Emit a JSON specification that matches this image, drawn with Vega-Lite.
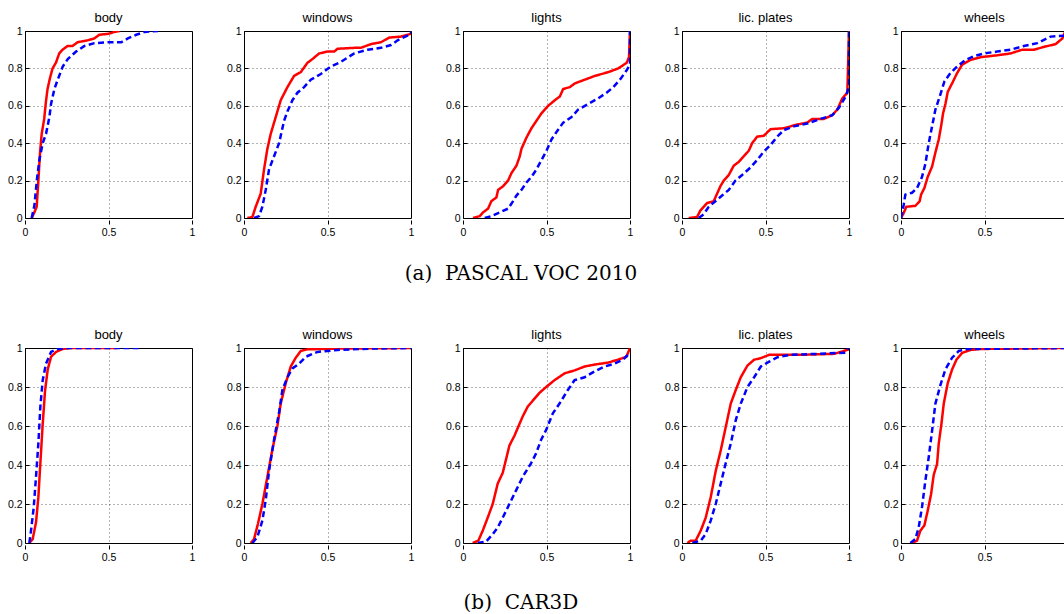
{
"$schema": "https://vega.github.io/schema/vega-lite/v6.json",
"padding": {"left": 6, "top": 12, "right": 0, "bottom": 0},
"background": "#ffffff",
"config": {
  "view": {"stroke": "#000000", "strokeWidth": 1},
  "axis": {"labelFont": "Liberation Sans", "labelFontSize": 10.5, "labelColor": "#000000", "domain": false, "ticks": true, "tickSize": -4, "tickColor": "#000000", "labelPadding": 7, "gridColor": "#000000", "gridOpacity": 0.6, "gridDash": [1, 3], "gridWidth": 1, "labelFlush": false, "title": null},
  "title": {"font": "DejaVu Serif", "fontSize": 20, "fontWeight": "normal", "color": "#000000"},
  "header": {"labelFont": "Liberation Sans", "labelFontSize": 13, "labelColor": "#000000", "labelPadding": 0, "title": null}
},
"datasets": {"pts": [
{"d":"a","p":"body","m":"A","i":0,"x":0.04,"y":0},{"d":"a","p":"body","m":"A","i":1,"x":0.056,"y":0.03},{"d":"a","p":"body","m":"A","i":2,"x":0.07,"y":0.06},{"d":"a","p":"body","m":"A","i":3,"x":0.08,"y":0.2},{"d":"a","p":"body","m":"A","i":4,"x":0.09,"y":0.35},{"d":"a","p":"body","m":"A","i":5,"x":0.1,"y":0.45},{"d":"a","p":"body","m":"A","i":6,"x":0.115,"y":0.53},{"d":"a","p":"body","m":"A","i":7,"x":0.125,"y":0.62},{"d":"a","p":"body","m":"A","i":8,"x":0.135,"y":0.69},{"d":"a","p":"body","m":"A","i":9,"x":0.15,"y":0.75},{"d":"a","p":"body","m":"A","i":10,"x":0.165,"y":0.8},{"d":"a","p":"body","m":"A","i":11,"x":0.185,"y":0.83},{"d":"a","p":"body","m":"A","i":12,"x":0.205,"y":0.88},{"d":"a","p":"body","m":"A","i":13,"x":0.225,"y":0.9},{"d":"a","p":"body","m":"A","i":14,"x":0.255,"y":0.92},{"d":"a","p":"body","m":"A","i":15,"x":0.285,"y":0.92},{"d":"a","p":"body","m":"A","i":16,"x":0.315,"y":0.94},{"d":"a","p":"body","m":"A","i":17,"x":0.375,"y":0.95},{"d":"a","p":"body","m":"A","i":18,"x":0.415,"y":0.96},{"d":"a","p":"body","m":"A","i":19,"x":0.445,"y":0.98},{"d":"a","p":"body","m":"A","i":20,"x":0.5,"y":0.985},{"d":"a","p":"body","m":"A","i":21,"x":0.535,"y":0.995},{"d":"a","p":"body","m":"A","i":22,"x":0.566,"y":1},
{"d":"a","p":"body","m":"B","i":0,"x":0.04,"y":0},{"d":"a","p":"body","m":"B","i":1,"x":0.056,"y":0.065},{"d":"a","p":"body","m":"B","i":2,"x":0.072,"y":0.21},{"d":"a","p":"body","m":"B","i":3,"x":0.086,"y":0.31},{"d":"a","p":"body","m":"B","i":4,"x":0.106,"y":0.4},{"d":"a","p":"body","m":"B","i":5,"x":0.126,"y":0.45},{"d":"a","p":"body","m":"B","i":6,"x":0.146,"y":0.54},{"d":"a","p":"body","m":"B","i":7,"x":0.156,"y":0.61},{"d":"a","p":"body","m":"B","i":8,"x":0.176,"y":0.69},{"d":"a","p":"body","m":"B","i":9,"x":0.196,"y":0.74},{"d":"a","p":"body","m":"B","i":10,"x":0.226,"y":0.81},{"d":"a","p":"body","m":"B","i":11,"x":0.256,"y":0.85},{"d":"a","p":"body","m":"B","i":12,"x":0.306,"y":0.89},{"d":"a","p":"body","m":"B","i":13,"x":0.356,"y":0.92},{"d":"a","p":"body","m":"B","i":14,"x":0.416,"y":0.935},{"d":"a","p":"body","m":"B","i":15,"x":0.496,"y":0.94},{"d":"a","p":"body","m":"B","i":16,"x":0.576,"y":0.94},{"d":"a","p":"body","m":"B","i":17,"x":0.616,"y":0.96},{"d":"a","p":"body","m":"B","i":18,"x":0.666,"y":0.98},{"d":"a","p":"body","m":"B","i":19,"x":0.716,"y":0.995},{"d":"a","p":"body","m":"B","i":20,"x":0.796,"y":1},
{"d":"a","p":"windows","m":"A","i":0,"x":0.02,"y":0},{"d":"a","p":"windows","m":"A","i":1,"x":0.05,"y":0.005},{"d":"a","p":"windows","m":"A","i":2,"x":0.07,"y":0.06},{"d":"a","p":"windows","m":"A","i":3,"x":0.1,"y":0.13},{"d":"a","p":"windows","m":"A","i":4,"x":0.12,"y":0.26},{"d":"a","p":"windows","m":"A","i":5,"x":0.14,"y":0.37},{"d":"a","p":"windows","m":"A","i":6,"x":0.16,"y":0.45},{"d":"a","p":"windows","m":"A","i":7,"x":0.19,"y":0.54},{"d":"a","p":"windows","m":"A","i":8,"x":0.22,"y":0.63},{"d":"a","p":"windows","m":"A","i":9,"x":0.26,"y":0.7},{"d":"a","p":"windows","m":"A","i":10,"x":0.3,"y":0.76},{"d":"a","p":"windows","m":"A","i":11,"x":0.34,"y":0.78},{"d":"a","p":"windows","m":"A","i":12,"x":0.38,"y":0.83},{"d":"a","p":"windows","m":"A","i":13,"x":0.41,"y":0.85},{"d":"a","p":"windows","m":"A","i":14,"x":0.45,"y":0.88},{"d":"a","p":"windows","m":"A","i":15,"x":0.5,"y":0.89},{"d":"a","p":"windows","m":"A","i":16,"x":0.54,"y":0.89},{"d":"a","p":"windows","m":"A","i":17,"x":0.56,"y":0.905},{"d":"a","p":"windows","m":"A","i":18,"x":0.66,"y":0.91},{"d":"a","p":"windows","m":"A","i":19,"x":0.7,"y":0.91},{"d":"a","p":"windows","m":"A","i":20,"x":0.76,"y":0.93},{"d":"a","p":"windows","m":"A","i":21,"x":0.82,"y":0.94},{"d":"a","p":"windows","m":"A","i":22,"x":0.87,"y":0.965},{"d":"a","p":"windows","m":"A","i":23,"x":0.94,"y":0.97},{"d":"a","p":"windows","m":"A","i":24,"x":1,"y":0.985},
{"d":"a","p":"windows","m":"B","i":0,"x":0.06,"y":0},{"d":"a","p":"windows","m":"B","i":1,"x":0.09,"y":0.01},{"d":"a","p":"windows","m":"B","i":2,"x":0.11,"y":0.06},{"d":"a","p":"windows","m":"B","i":3,"x":0.13,"y":0.15},{"d":"a","p":"windows","m":"B","i":4,"x":0.15,"y":0.26},{"d":"a","p":"windows","m":"B","i":5,"x":0.18,"y":0.33},{"d":"a","p":"windows","m":"B","i":6,"x":0.21,"y":0.4},{"d":"a","p":"windows","m":"B","i":7,"x":0.24,"y":0.52},{"d":"a","p":"windows","m":"B","i":8,"x":0.26,"y":0.57},{"d":"a","p":"windows","m":"B","i":9,"x":0.29,"y":0.63},{"d":"a","p":"windows","m":"B","i":10,"x":0.32,"y":0.67},{"d":"a","p":"windows","m":"B","i":11,"x":0.36,"y":0.7},{"d":"a","p":"windows","m":"B","i":12,"x":0.4,"y":0.74},{"d":"a","p":"windows","m":"B","i":13,"x":0.46,"y":0.77},{"d":"a","p":"windows","m":"B","i":14,"x":0.52,"y":0.81},{"d":"a","p":"windows","m":"B","i":15,"x":0.58,"y":0.835},{"d":"a","p":"windows","m":"B","i":16,"x":0.66,"y":0.88},{"d":"a","p":"windows","m":"B","i":17,"x":0.74,"y":0.9},{"d":"a","p":"windows","m":"B","i":18,"x":0.82,"y":0.91},{"d":"a","p":"windows","m":"B","i":19,"x":0.88,"y":0.925},{"d":"a","p":"windows","m":"B","i":20,"x":0.92,"y":0.95},{"d":"a","p":"windows","m":"B","i":21,"x":1,"y":0.985},{"d":"a","p":"windows","m":"B","i":22,"x":1,"y":1},
{"d":"a","p":"lights","m":"A","i":0,"x":0.06,"y":0},{"d":"a","p":"lights","m":"A","i":1,"x":0.1,"y":0.01},{"d":"a","p":"lights","m":"A","i":2,"x":0.12,"y":0.03},{"d":"a","p":"lights","m":"A","i":3,"x":0.15,"y":0.05},{"d":"a","p":"lights","m":"A","i":4,"x":0.17,"y":0.09},{"d":"a","p":"lights","m":"A","i":5,"x":0.2,"y":0.11},{"d":"a","p":"lights","m":"A","i":6,"x":0.21,"y":0.15},{"d":"a","p":"lights","m":"A","i":7,"x":0.24,"y":0.17},{"d":"a","p":"lights","m":"A","i":8,"x":0.27,"y":0.2},{"d":"a","p":"lights","m":"A","i":9,"x":0.29,"y":0.24},{"d":"a","p":"lights","m":"A","i":10,"x":0.32,"y":0.28},{"d":"a","p":"lights","m":"A","i":11,"x":0.34,"y":0.33},{"d":"a","p":"lights","m":"A","i":12,"x":0.35,"y":0.37},{"d":"a","p":"lights","m":"A","i":13,"x":0.38,"y":0.43},{"d":"a","p":"lights","m":"A","i":14,"x":0.41,"y":0.48},{"d":"a","p":"lights","m":"A","i":15,"x":0.44,"y":0.52},{"d":"a","p":"lights","m":"A","i":16,"x":0.47,"y":0.56},{"d":"a","p":"lights","m":"A","i":17,"x":0.51,"y":0.6},{"d":"a","p":"lights","m":"A","i":18,"x":0.55,"y":0.63},{"d":"a","p":"lights","m":"A","i":19,"x":0.58,"y":0.65},{"d":"a","p":"lights","m":"A","i":20,"x":0.6,"y":0.69},{"d":"a","p":"lights","m":"A","i":21,"x":0.64,"y":0.7},{"d":"a","p":"lights","m":"A","i":22,"x":0.67,"y":0.72},{"d":"a","p":"lights","m":"A","i":23,"x":0.73,"y":0.74},{"d":"a","p":"lights","m":"A","i":24,"x":0.79,"y":0.76},{"d":"a","p":"lights","m":"A","i":25,"x":0.87,"y":0.78},{"d":"a","p":"lights","m":"A","i":26,"x":0.93,"y":0.8},{"d":"a","p":"lights","m":"A","i":27,"x":0.98,"y":0.83},{"d":"a","p":"lights","m":"A","i":28,"x":0.994,"y":0.86},{"d":"a","p":"lights","m":"A","i":29,"x":1,"y":1},
{"d":"a","p":"lights","m":"B","i":0,"x":0.13,"y":0},{"d":"a","p":"lights","m":"B","i":1,"x":0.17,"y":0.01},{"d":"a","p":"lights","m":"B","i":2,"x":0.22,"y":0.03},{"d":"a","p":"lights","m":"B","i":3,"x":0.27,"y":0.05},{"d":"a","p":"lights","m":"B","i":4,"x":0.3,"y":0.09},{"d":"a","p":"lights","m":"B","i":5,"x":0.32,"y":0.12},{"d":"a","p":"lights","m":"B","i":6,"x":0.35,"y":0.15},{"d":"a","p":"lights","m":"B","i":7,"x":0.38,"y":0.19},{"d":"a","p":"lights","m":"B","i":8,"x":0.41,"y":0.22},{"d":"a","p":"lights","m":"B","i":9,"x":0.44,"y":0.26},{"d":"a","p":"lights","m":"B","i":10,"x":0.47,"y":0.31},{"d":"a","p":"lights","m":"B","i":11,"x":0.5,"y":0.36},{"d":"a","p":"lights","m":"B","i":12,"x":0.53,"y":0.42},{"d":"a","p":"lights","m":"B","i":13,"x":0.56,"y":0.46},{"d":"a","p":"lights","m":"B","i":14,"x":0.6,"y":0.51},{"d":"a","p":"lights","m":"B","i":15,"x":0.65,"y":0.54},{"d":"a","p":"lights","m":"B","i":16,"x":0.69,"y":0.58},{"d":"a","p":"lights","m":"B","i":17,"x":0.75,"y":0.61},{"d":"a","p":"lights","m":"B","i":18,"x":0.81,"y":0.64},{"d":"a","p":"lights","m":"B","i":19,"x":0.86,"y":0.67},{"d":"a","p":"lights","m":"B","i":20,"x":0.9,"y":0.7},{"d":"a","p":"lights","m":"B","i":21,"x":0.94,"y":0.74},{"d":"a","p":"lights","m":"B","i":22,"x":0.98,"y":0.79},{"d":"a","p":"lights","m":"B","i":23,"x":1,"y":0.82},{"d":"a","p":"lights","m":"B","i":24,"x":1,"y":1},
{"d":"a","p":"lic. plates","m":"A","i":0,"x":0.04,"y":0},{"d":"a","p":"lic. plates","m":"A","i":1,"x":0.09,"y":0.005},{"d":"a","p":"lic. plates","m":"A","i":2,"x":0.11,"y":0.04},{"d":"a","p":"lic. plates","m":"A","i":3,"x":0.15,"y":0.08},{"d":"a","p":"lic. plates","m":"A","i":4,"x":0.19,"y":0.09},{"d":"a","p":"lic. plates","m":"A","i":5,"x":0.21,"y":0.13},{"d":"a","p":"lic. plates","m":"A","i":6,"x":0.23,"y":0.17},{"d":"a","p":"lic. plates","m":"A","i":7,"x":0.25,"y":0.2},{"d":"a","p":"lic. plates","m":"A","i":8,"x":0.28,"y":0.23},{"d":"a","p":"lic. plates","m":"A","i":9,"x":0.31,"y":0.28},{"d":"a","p":"lic. plates","m":"A","i":10,"x":0.34,"y":0.3},{"d":"a","p":"lic. plates","m":"A","i":11,"x":0.37,"y":0.33},{"d":"a","p":"lic. plates","m":"A","i":12,"x":0.4,"y":0.36},{"d":"a","p":"lic. plates","m":"A","i":13,"x":0.42,"y":0.4},{"d":"a","p":"lic. plates","m":"A","i":14,"x":0.45,"y":0.435},{"d":"a","p":"lic. plates","m":"A","i":15,"x":0.49,"y":0.44},{"d":"a","p":"lic. plates","m":"A","i":16,"x":0.53,"y":0.475},{"d":"a","p":"lic. plates","m":"A","i":17,"x":0.61,"y":0.48},{"d":"a","p":"lic. plates","m":"A","i":18,"x":0.65,"y":0.49},{"d":"a","p":"lic. plates","m":"A","i":19,"x":0.69,"y":0.5},{"d":"a","p":"lic. plates","m":"A","i":20,"x":0.75,"y":0.51},{"d":"a","p":"lic. plates","m":"A","i":21,"x":0.78,"y":0.53},{"d":"a","p":"lic. plates","m":"A","i":22,"x":0.85,"y":0.53},{"d":"a","p":"lic. plates","m":"A","i":23,"x":0.9,"y":0.55},{"d":"a","p":"lic. plates","m":"A","i":24,"x":0.93,"y":0.58},{"d":"a","p":"lic. plates","m":"A","i":25,"x":0.96,"y":0.64},{"d":"a","p":"lic. plates","m":"A","i":26,"x":0.99,"y":0.67},{"d":"a","p":"lic. plates","m":"A","i":27,"x":1,"y":1},
{"d":"a","p":"lic. plates","m":"B","i":0,"x":0.1,"y":0},{"d":"a","p":"lic. plates","m":"B","i":1,"x":0.13,"y":0.02},{"d":"a","p":"lic. plates","m":"B","i":2,"x":0.16,"y":0.06},{"d":"a","p":"lic. plates","m":"B","i":3,"x":0.2,"y":0.09},{"d":"a","p":"lic. plates","m":"B","i":4,"x":0.24,"y":0.12},{"d":"a","p":"lic. plates","m":"B","i":5,"x":0.28,"y":0.15},{"d":"a","p":"lic. plates","m":"B","i":6,"x":0.32,"y":0.2},{"d":"a","p":"lic. plates","m":"B","i":7,"x":0.36,"y":0.23},{"d":"a","p":"lic. plates","m":"B","i":8,"x":0.41,"y":0.27},{"d":"a","p":"lic. plates","m":"B","i":9,"x":0.45,"y":0.31},{"d":"a","p":"lic. plates","m":"B","i":10,"x":0.49,"y":0.355},{"d":"a","p":"lic. plates","m":"B","i":11,"x":0.53,"y":0.39},{"d":"a","p":"lic. plates","m":"B","i":12,"x":0.57,"y":0.435},{"d":"a","p":"lic. plates","m":"B","i":13,"x":0.61,"y":0.47},{"d":"a","p":"lic. plates","m":"B","i":14,"x":0.67,"y":0.49},{"d":"a","p":"lic. plates","m":"B","i":15,"x":0.75,"y":0.505},{"d":"a","p":"lic. plates","m":"B","i":16,"x":0.83,"y":0.53},{"d":"a","p":"lic. plates","m":"B","i":17,"x":0.9,"y":0.55},{"d":"a","p":"lic. plates","m":"B","i":18,"x":0.94,"y":0.59},{"d":"a","p":"lic. plates","m":"B","i":19,"x":0.98,"y":0.65},{"d":"a","p":"lic. plates","m":"B","i":20,"x":1,"y":0.7},{"d":"a","p":"lic. plates","m":"B","i":21,"x":1,"y":1},
{"d":"a","p":"wheels","m":"A","i":0,"x":0,"y":0},{"d":"a","p":"wheels","m":"A","i":1,"x":0.016,"y":0.027},{"d":"a","p":"wheels","m":"A","i":2,"x":0.032,"y":0.06},{"d":"a","p":"wheels","m":"A","i":3,"x":0.086,"y":0.065},{"d":"a","p":"wheels","m":"A","i":4,"x":0.112,"y":0.09},{"d":"a","p":"wheels","m":"A","i":5,"x":0.12,"y":0.125},{"d":"a","p":"wheels","m":"A","i":6,"x":0.14,"y":0.16},{"d":"a","p":"wheels","m":"A","i":7,"x":0.16,"y":0.22},{"d":"a","p":"wheels","m":"A","i":8,"x":0.186,"y":0.275},{"d":"a","p":"wheels","m":"A","i":9,"x":0.206,"y":0.35},{"d":"a","p":"wheels","m":"A","i":10,"x":0.226,"y":0.42},{"d":"a","p":"wheels","m":"A","i":11,"x":0.24,"y":0.49},{"d":"a","p":"wheels","m":"A","i":12,"x":0.252,"y":0.56},{"d":"a","p":"wheels","m":"A","i":13,"x":0.266,"y":0.61},{"d":"a","p":"wheels","m":"A","i":14,"x":0.28,"y":0.675},{"d":"a","p":"wheels","m":"A","i":15,"x":0.306,"y":0.72},{"d":"a","p":"wheels","m":"A","i":16,"x":0.336,"y":0.775},{"d":"a","p":"wheels","m":"A","i":17,"x":0.366,"y":0.82},{"d":"a","p":"wheels","m":"A","i":18,"x":0.416,"y":0.845},{"d":"a","p":"wheels","m":"A","i":19,"x":0.476,"y":0.86},{"d":"a","p":"wheels","m":"A","i":20,"x":0.576,"y":0.87},{"d":"a","p":"wheels","m":"A","i":21,"x":0.656,"y":0.88},{"d":"a","p":"wheels","m":"A","i":22,"x":0.726,"y":0.9},{"d":"a","p":"wheels","m":"A","i":23,"x":0.796,"y":0.9},{"d":"a","p":"wheels","m":"A","i":24,"x":0.856,"y":0.915},{"d":"a","p":"wheels","m":"A","i":25,"x":0.926,"y":0.93},{"d":"a","p":"wheels","m":"A","i":26,"x":0.966,"y":0.96},{"d":"a","p":"wheels","m":"A","i":27,"x":0.98,"y":0.99},{"d":"a","p":"wheels","m":"A","i":28,"x":1,"y":1},
{"d":"a","p":"wheels","m":"B","i":0,"x":0,"y":0},{"d":"a","p":"wheels","m":"B","i":1,"x":0.016,"y":0.07},{"d":"a","p":"wheels","m":"B","i":2,"x":0.026,"y":0.125},{"d":"a","p":"wheels","m":"B","i":3,"x":0.066,"y":0.135},{"d":"a","p":"wheels","m":"B","i":4,"x":0.096,"y":0.16},{"d":"a","p":"wheels","m":"B","i":5,"x":0.126,"y":0.22},{"d":"a","p":"wheels","m":"B","i":6,"x":0.146,"y":0.29},{"d":"a","p":"wheels","m":"B","i":7,"x":0.166,"y":0.4},{"d":"a","p":"wheels","m":"B","i":8,"x":0.186,"y":0.49},{"d":"a","p":"wheels","m":"B","i":9,"x":0.206,"y":0.58},{"d":"a","p":"wheels","m":"B","i":10,"x":0.232,"y":0.65},{"d":"a","p":"wheels","m":"B","i":11,"x":0.26,"y":0.73},{"d":"a","p":"wheels","m":"B","i":12,"x":0.296,"y":0.775},{"d":"a","p":"wheels","m":"B","i":13,"x":0.336,"y":0.81},{"d":"a","p":"wheels","m":"B","i":14,"x":0.386,"y":0.845},{"d":"a","p":"wheels","m":"B","i":15,"x":0.436,"y":0.865},{"d":"a","p":"wheels","m":"B","i":16,"x":0.496,"y":0.88},{"d":"a","p":"wheels","m":"B","i":17,"x":0.576,"y":0.89},{"d":"a","p":"wheels","m":"B","i":18,"x":0.656,"y":0.9},{"d":"a","p":"wheels","m":"B","i":19,"x":0.736,"y":0.92},{"d":"a","p":"wheels","m":"B","i":20,"x":0.816,"y":0.935},{"d":"a","p":"wheels","m":"B","i":21,"x":0.896,"y":0.97},{"d":"a","p":"wheels","m":"B","i":22,"x":0.98,"y":0.975},{"d":"a","p":"wheels","m":"B","i":23,"x":1,"y":0.985},
{"d":"b","p":"body","m":"A","i":0,"x":0.026,"y":0},{"d":"b","p":"body","m":"A","i":1,"x":0.046,"y":0.02},{"d":"b","p":"body","m":"A","i":2,"x":0.066,"y":0.106},{"d":"b","p":"body","m":"A","i":3,"x":0.08,"y":0.235},{"d":"b","p":"body","m":"A","i":4,"x":0.092,"y":0.41},{"d":"b","p":"body","m":"A","i":5,"x":0.106,"y":0.61},{"d":"b","p":"body","m":"A","i":6,"x":0.12,"y":0.78},{"d":"b","p":"body","m":"A","i":7,"x":0.136,"y":0.89},{"d":"b","p":"body","m":"A","i":8,"x":0.156,"y":0.955},{"d":"b","p":"body","m":"A","i":9,"x":0.186,"y":0.98},{"d":"b","p":"body","m":"A","i":10,"x":0.226,"y":0.995},{"d":"b","p":"body","m":"A","i":11,"x":0.276,"y":1},{"d":"b","p":"body","m":"A","i":12,"x":0.55,"y":1},
{"d":"b","p":"body","m":"B","i":0,"x":0.026,"y":0},{"d":"b","p":"body","m":"B","i":1,"x":0.036,"y":0.063},{"d":"b","p":"body","m":"B","i":2,"x":0.052,"y":0.18},{"d":"b","p":"body","m":"B","i":3,"x":0.066,"y":0.34},{"d":"b","p":"body","m":"B","i":4,"x":0.08,"y":0.51},{"d":"b","p":"body","m":"B","i":5,"x":0.092,"y":0.7},{"d":"b","p":"body","m":"B","i":6,"x":0.106,"y":0.835},{"d":"b","p":"body","m":"B","i":7,"x":0.126,"y":0.92},{"d":"b","p":"body","m":"B","i":8,"x":0.156,"y":0.98},{"d":"b","p":"body","m":"B","i":9,"x":0.196,"y":0.995},{"d":"b","p":"body","m":"B","i":10,"x":0.256,"y":1},{"d":"b","p":"body","m":"B","i":11,"x":0.686,"y":1},
{"d":"b","p":"windows","m":"A","i":0,"x":0.04,"y":0},{"d":"b","p":"windows","m":"A","i":1,"x":0.06,"y":0.02},{"d":"b","p":"windows","m":"A","i":2,"x":0.084,"y":0.1},{"d":"b","p":"windows","m":"A","i":3,"x":0.11,"y":0.2},{"d":"b","p":"windows","m":"A","i":4,"x":0.14,"y":0.34},{"d":"b","p":"windows","m":"A","i":5,"x":0.17,"y":0.48},{"d":"b","p":"windows","m":"A","i":6,"x":0.2,"y":0.6},{"d":"b","p":"windows","m":"A","i":7,"x":0.22,"y":0.715},{"d":"b","p":"windows","m":"A","i":8,"x":0.25,"y":0.82},{"d":"b","p":"windows","m":"A","i":9,"x":0.28,"y":0.905},{"d":"b","p":"windows","m":"A","i":10,"x":0.31,"y":0.95},{"d":"b","p":"windows","m":"A","i":11,"x":0.34,"y":0.985},{"d":"b","p":"windows","m":"A","i":12,"x":0.38,"y":0.993},{"d":"b","p":"windows","m":"A","i":13,"x":0.56,"y":0.997},{"d":"b","p":"windows","m":"A","i":14,"x":1,"y":1},
{"d":"b","p":"windows","m":"B","i":0,"x":0.05,"y":0},{"d":"b","p":"windows","m":"B","i":1,"x":0.08,"y":0.03},{"d":"b","p":"windows","m":"B","i":2,"x":0.11,"y":0.115},{"d":"b","p":"windows","m":"B","i":3,"x":0.13,"y":0.22},{"d":"b","p":"windows","m":"B","i":4,"x":0.15,"y":0.37},{"d":"b","p":"windows","m":"B","i":5,"x":0.18,"y":0.53},{"d":"b","p":"windows","m":"B","i":6,"x":0.21,"y":0.67},{"d":"b","p":"windows","m":"B","i":7,"x":0.23,"y":0.785},{"d":"b","p":"windows","m":"B","i":8,"x":0.26,"y":0.85},{"d":"b","p":"windows","m":"B","i":9,"x":0.29,"y":0.895},{"d":"b","p":"windows","m":"B","i":10,"x":0.33,"y":0.92},{"d":"b","p":"windows","m":"B","i":11,"x":0.37,"y":0.955},{"d":"b","p":"windows","m":"B","i":12,"x":0.44,"y":0.98},{"d":"b","p":"windows","m":"B","i":13,"x":0.56,"y":0.99},{"d":"b","p":"windows","m":"B","i":14,"x":0.76,"y":0.997},{"d":"b","p":"windows","m":"B","i":15,"x":1,"y":1},
{"d":"b","p":"lights","m":"A","i":0,"x":0.058,"y":0},{"d":"b","p":"lights","m":"A","i":1,"x":0.092,"y":0.012},{"d":"b","p":"lights","m":"A","i":2,"x":0.118,"y":0.063},{"d":"b","p":"lights","m":"A","i":3,"x":0.148,"y":0.13},{"d":"b","p":"lights","m":"A","i":4,"x":0.178,"y":0.2},{"d":"b","p":"lights","m":"A","i":5,"x":0.208,"y":0.305},{"d":"b","p":"lights","m":"A","i":6,"x":0.238,"y":0.36},{"d":"b","p":"lights","m":"A","i":7,"x":0.258,"y":0.43},{"d":"b","p":"lights","m":"A","i":8,"x":0.278,"y":0.5},{"d":"b","p":"lights","m":"A","i":9,"x":0.308,"y":0.55},{"d":"b","p":"lights","m":"A","i":10,"x":0.338,"y":0.61},{"d":"b","p":"lights","m":"A","i":11,"x":0.358,"y":0.65},{"d":"b","p":"lights","m":"A","i":12,"x":0.388,"y":0.7},{"d":"b","p":"lights","m":"A","i":13,"x":0.418,"y":0.73},{"d":"b","p":"lights","m":"A","i":14,"x":0.458,"y":0.77},{"d":"b","p":"lights","m":"A","i":15,"x":0.498,"y":0.8},{"d":"b","p":"lights","m":"A","i":16,"x":0.548,"y":0.835},{"d":"b","p":"lights","m":"A","i":17,"x":0.608,"y":0.87},{"d":"b","p":"lights","m":"A","i":18,"x":0.668,"y":0.885},{"d":"b","p":"lights","m":"A","i":19,"x":0.728,"y":0.905},{"d":"b","p":"lights","m":"A","i":20,"x":0.788,"y":0.915},{"d":"b","p":"lights","m":"A","i":21,"x":0.868,"y":0.925},{"d":"b","p":"lights","m":"A","i":22,"x":0.928,"y":0.94},{"d":"b","p":"lights","m":"A","i":23,"x":0.978,"y":0.955},{"d":"b","p":"lights","m":"A","i":24,"x":1,"y":1},
{"d":"b","p":"lights","m":"B","i":0,"x":0.088,"y":0},{"d":"b","p":"lights","m":"B","i":1,"x":0.138,"y":0.007},{"d":"b","p":"lights","m":"B","i":2,"x":0.178,"y":0.045},{"d":"b","p":"lights","m":"B","i":3,"x":0.208,"y":0.08},{"d":"b","p":"lights","m":"B","i":4,"x":0.238,"y":0.13},{"d":"b","p":"lights","m":"B","i":5,"x":0.278,"y":0.2},{"d":"b","p":"lights","m":"B","i":6,"x":0.318,"y":0.27},{"d":"b","p":"lights","m":"B","i":7,"x":0.358,"y":0.34},{"d":"b","p":"lights","m":"B","i":8,"x":0.408,"y":0.41},{"d":"b","p":"lights","m":"B","i":9,"x":0.438,"y":0.46},{"d":"b","p":"lights","m":"B","i":10,"x":0.468,"y":0.53},{"d":"b","p":"lights","m":"B","i":11,"x":0.498,"y":0.58},{"d":"b","p":"lights","m":"B","i":12,"x":0.538,"y":0.665},{"d":"b","p":"lights","m":"B","i":13,"x":0.578,"y":0.715},{"d":"b","p":"lights","m":"B","i":14,"x":0.628,"y":0.785},{"d":"b","p":"lights","m":"B","i":15,"x":0.668,"y":0.835},{"d":"b","p":"lights","m":"B","i":16,"x":0.728,"y":0.85},{"d":"b","p":"lights","m":"B","i":17,"x":0.788,"y":0.88},{"d":"b","p":"lights","m":"B","i":18,"x":0.848,"y":0.905},{"d":"b","p":"lights","m":"B","i":19,"x":0.908,"y":0.92},{"d":"b","p":"lights","m":"B","i":20,"x":0.958,"y":0.94},{"d":"b","p":"lights","m":"B","i":21,"x":1,"y":0.975},
{"d":"b","p":"lic. plates","m":"A","i":0,"x":0.032,"y":0},{"d":"b","p":"lic. plates","m":"A","i":1,"x":0.052,"y":0.012},{"d":"b","p":"lic. plates","m":"A","i":2,"x":0.082,"y":0.012},{"d":"b","p":"lic. plates","m":"A","i":3,"x":0.112,"y":0.063},{"d":"b","p":"lic. plates","m":"A","i":4,"x":0.142,"y":0.13},{"d":"b","p":"lic. plates","m":"A","i":5,"x":0.172,"y":0.235},{"d":"b","p":"lic. plates","m":"A","i":6,"x":0.202,"y":0.37},{"d":"b","p":"lic. plates","m":"A","i":7,"x":0.232,"y":0.475},{"d":"b","p":"lic. plates","m":"A","i":8,"x":0.262,"y":0.595},{"d":"b","p":"lic. plates","m":"A","i":9,"x":0.292,"y":0.715},{"d":"b","p":"lic. plates","m":"A","i":10,"x":0.322,"y":0.785},{"d":"b","p":"lic. plates","m":"A","i":11,"x":0.352,"y":0.85},{"d":"b","p":"lic. plates","m":"A","i":12,"x":0.392,"y":0.91},{"d":"b","p":"lic. plates","m":"A","i":13,"x":0.432,"y":0.94},{"d":"b","p":"lic. plates","m":"A","i":14,"x":0.472,"y":0.948},{"d":"b","p":"lic. plates","m":"A","i":15,"x":0.522,"y":0.965},{"d":"b","p":"lic. plates","m":"A","i":16,"x":0.712,"y":0.965},{"d":"b","p":"lic. plates","m":"A","i":17,"x":0.912,"y":0.97},{"d":"b","p":"lic. plates","m":"A","i":18,"x":1,"y":0.993},
{"d":"b","p":"lic. plates","m":"B","i":0,"x":0.062,"y":0},{"d":"b","p":"lic. plates","m":"B","i":1,"x":0.112,"y":0.012},{"d":"b","p":"lic. plates","m":"B","i":2,"x":0.142,"y":0.046},{"d":"b","p":"lic. plates","m":"B","i":3,"x":0.172,"y":0.115},{"d":"b","p":"lic. plates","m":"B","i":4,"x":0.202,"y":0.2},{"d":"b","p":"lic. plates","m":"B","i":5,"x":0.232,"y":0.305},{"d":"b","p":"lic. plates","m":"B","i":6,"x":0.262,"y":0.41},{"d":"b","p":"lic. plates","m":"B","i":7,"x":0.292,"y":0.51},{"d":"b","p":"lic. plates","m":"B","i":8,"x":0.322,"y":0.63},{"d":"b","p":"lic. plates","m":"B","i":9,"x":0.352,"y":0.715},{"d":"b","p":"lic. plates","m":"B","i":10,"x":0.392,"y":0.8},{"d":"b","p":"lic. plates","m":"B","i":11,"x":0.432,"y":0.85},{"d":"b","p":"lic. plates","m":"B","i":12,"x":0.472,"y":0.905},{"d":"b","p":"lic. plates","m":"B","i":13,"x":0.522,"y":0.93},{"d":"b","p":"lic. plates","m":"B","i":14,"x":0.572,"y":0.953},{"d":"b","p":"lic. plates","m":"B","i":15,"x":0.652,"y":0.965},{"d":"b","p":"lic. plates","m":"B","i":16,"x":0.812,"y":0.97},{"d":"b","p":"lic. plates","m":"B","i":17,"x":0.972,"y":0.976},{"d":"b","p":"lic. plates","m":"B","i":18,"x":1,"y":1},
{"d":"b","p":"wheels","m":"A","i":0,"x":0.066,"y":0},{"d":"b","p":"wheels","m":"A","i":1,"x":0.096,"y":0.012},{"d":"b","p":"wheels","m":"A","i":2,"x":0.116,"y":0.063},{"d":"b","p":"wheels","m":"A","i":3,"x":0.14,"y":0.09},{"d":"b","p":"wheels","m":"A","i":4,"x":0.16,"y":0.166},{"d":"b","p":"wheels","m":"A","i":5,"x":0.18,"y":0.25},{"d":"b","p":"wheels","m":"A","i":6,"x":0.196,"y":0.35},{"d":"b","p":"wheels","m":"A","i":7,"x":0.216,"y":0.405},{"d":"b","p":"wheels","m":"A","i":8,"x":0.226,"y":0.51},{"d":"b","p":"wheels","m":"A","i":9,"x":0.242,"y":0.61},{"d":"b","p":"wheels","m":"A","i":10,"x":0.256,"y":0.715},{"d":"b","p":"wheels","m":"A","i":11,"x":0.28,"y":0.82},{"d":"b","p":"wheels","m":"A","i":12,"x":0.306,"y":0.89},{"d":"b","p":"wheels","m":"A","i":13,"x":0.332,"y":0.94},{"d":"b","p":"wheels","m":"A","i":14,"x":0.366,"y":0.975},{"d":"b","p":"wheels","m":"A","i":15,"x":0.416,"y":0.99},{"d":"b","p":"wheels","m":"A","i":16,"x":0.476,"y":0.995},{"d":"b","p":"wheels","m":"A","i":17,"x":1,"y":1},
{"d":"b","p":"wheels","m":"B","i":0,"x":0.056,"y":0},{"d":"b","p":"wheels","m":"B","i":1,"x":0.086,"y":0.02},{"d":"b","p":"wheels","m":"B","i":2,"x":0.106,"y":0.08},{"d":"b","p":"wheels","m":"B","i":3,"x":0.126,"y":0.185},{"d":"b","p":"wheels","m":"B","i":4,"x":0.146,"y":0.32},{"d":"b","p":"wheels","m":"B","i":5,"x":0.166,"y":0.44},{"d":"b","p":"wheels","m":"B","i":6,"x":0.186,"y":0.575},{"d":"b","p":"wheels","m":"B","i":7,"x":0.206,"y":0.715},{"d":"b","p":"wheels","m":"B","i":8,"x":0.236,"y":0.81},{"d":"b","p":"wheels","m":"B","i":9,"x":0.266,"y":0.89},{"d":"b","p":"wheels","m":"B","i":10,"x":0.306,"y":0.95},{"d":"b","p":"wheels","m":"B","i":11,"x":0.346,"y":0.985},{"d":"b","p":"wheels","m":"B","i":12,"x":0.396,"y":0.995},{"d":"b","p":"wheels","m":"B","i":13,"x":1,"y":1}
]},
"spacing": 45,
"vconcat": [
{
  "data": {"name": "pts"},
  "transform": [{"filter": "datum.d == 'a'"}],
  "title": {"text": "(a)\u00a0 PASCAL VOC 2010", "orient": "bottom", "anchor": "middle", "offset": 26, "dx": -18},
  "facet": {"column": {"field": "p", "type": "nominal", "sort": ["body", "windows", "lights", "lic. plates", "wheels"], "header": {"title": null}}},
  "spacing": 32,
  "resolve": {"axis": {"y": "independent"}},
  "spec": {
    "width": 167, "height": 187,
    "mark": {"type": "line", "strokeWidth": 2.5, "clip": true},
    "encoding": {
      "x": {"field": "x", "type": "quantitative", "scale": {"domain": [0, 1], "nice": false, "zero": false}, "axis": {"values": [0, 0.5, 1], "format": "~g", "grid": true}},
      "y": {"field": "y", "type": "quantitative", "scale": {"domain": [0, 1], "nice": false, "zero": false}, "axis": {"values": [0, 0.2, 0.4, 0.6, 0.8, 1], "format": "~g", "grid": true}},
      "color": {"field": "m", "type": "nominal", "scale": {"domain": ["A", "B"], "range": ["#ff0000", "#0000ff"]}, "legend": null},
      "strokeDash": {"field": "m", "type": "nominal", "scale": {"domain": ["A", "B"], "range": [[1, 0], [6, 3.5]]}, "legend": null},
      "order": {"field": "i", "type": "quantitative"}
    }
  }
},
{
  "data": {"name": "pts"},
  "transform": [{"filter": "datum.d == 'b'"}],
  "title": {"text": "(b)\u00a0 CAR3D", "orient": "bottom", "anchor": "middle", "offset": 30, "dx": -18},
  "facet": {"column": {"field": "p", "type": "nominal", "sort": ["body", "windows", "lights", "lic. plates", "wheels"], "header": {"title": null}}},
  "spacing": 32,
  "resolve": {"axis": {"y": "independent"}},
  "spec": {
    "width": 167, "height": 195,
    "mark": {"type": "line", "strokeWidth": 2.5, "clip": true},
    "encoding": {
      "x": {"field": "x", "type": "quantitative", "scale": {"domain": [0, 1], "nice": false, "zero": false}, "axis": {"values": [0, 0.5, 1], "format": "~g", "grid": true}},
      "y": {"field": "y", "type": "quantitative", "scale": {"domain": [0, 1], "nice": false, "zero": false}, "axis": {"values": [0, 0.2, 0.4, 0.6, 0.8, 1], "format": "~g", "grid": true}},
      "color": {"field": "m", "type": "nominal", "scale": {"domain": ["A", "B"], "range": ["#ff0000", "#0000ff"]}, "legend": null},
      "strokeDash": {"field": "m", "type": "nominal", "scale": {"domain": ["A", "B"], "range": [[1, 0], [6, 3.5]]}, "legend": null},
      "order": {"field": "i", "type": "quantitative"}
    }
  }
}
]
}
